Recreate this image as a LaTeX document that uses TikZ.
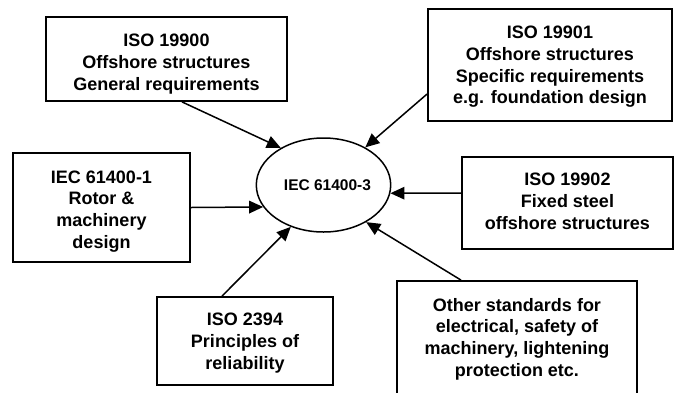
\documentclass[tikz,border=0pt]{standalone}
\usepackage{fontspec}
\setmainfont{Liberation Sans}
\usetikzlibrary{arrows.meta,shapes.geometric}
\newcommand\bxtxt[2][2pt]{\raisebox{-#1}[\height][\depth]{\begin{tabular}{@{}c@{}}#2\end{tabular}}}
\begin{document}
\begin{tikzpicture}[x=1pt,y=-1pt,
  stdbox/.style={draw, line width=1.8pt, inner sep=0pt,
    font=\fontsize{18}{21.7}\selectfont\bfseries},
  centre/.style={draw, ellipse, line width=1.5pt, inner sep=0pt,
    minimum width=133pt, minimum height=94pt,
    font=\fontsize{15.5}{18}\selectfont\bfseries},
  arr/.style={line width=1.5pt, -{Triangle[length=14pt,width=12.5pt]}}]
\clip (0,0) rectangle (678,392);
\fill[white] (0,0) rectangle (678,392);
\node[centre] (e) at (323.5,185) {\hspace*{8pt}IEC 61400-3};
\node[stdbox, minimum width=241pt, minimum height=84pt] (b1) at (166.5,59)
  {\bxtxt[5pt]{ISO 19900\\Offshore structures\\General requirements}};
\node[stdbox, minimum width=244pt, minimum height=112pt] (b2) at (550,65)
  {\bxtxt{ISO 19901\\Offshore structures\\Specific requirements\\e.g. foundation design}};
\node[stdbox, minimum width=177pt, minimum height=109pt] (b3) at (101.5,207.5)
  {\bxtxt[4pt]{IEC 61400-1\\Rotor \&\\machinery\\design}};
\node[stdbox, minimum width=211pt, minimum height=92pt] (b4) at (567.5,203)
  {\bxtxt[0pt]{ISO 19902\\Fixed steel\\offshore structures}};
\node[stdbox, minimum width=176pt, minimum height=88pt] (b5) at (245,341)
  {\bxtxt{ISO 2394\\Principles of\\reliability}};
\node[stdbox, minimum width=240pt, minimum height=113pt] (b6) at (517,337.5)
  {\bxtxt{Other standards for\\electrical, safety of\\machinery, lightening\\protection etc.}};
\draw[arr] ([xshift=15.5pt]b1.south) -- (e.139.6);
\draw[arr] ([yshift=-29pt]b2.west) -- (e.42.5);
\draw[arr] (b3.east) -- (e.200.5);
\draw[arr] ([yshift=10pt]b4.west) -- (e.-7);
\draw[arr] ([xshift=-23pt]b5.north) -- (e.232.1);
\draw[arr] ([xshift=-56pt]b6.north) -- (e.-41);
\end{tikzpicture}
\end{document}
